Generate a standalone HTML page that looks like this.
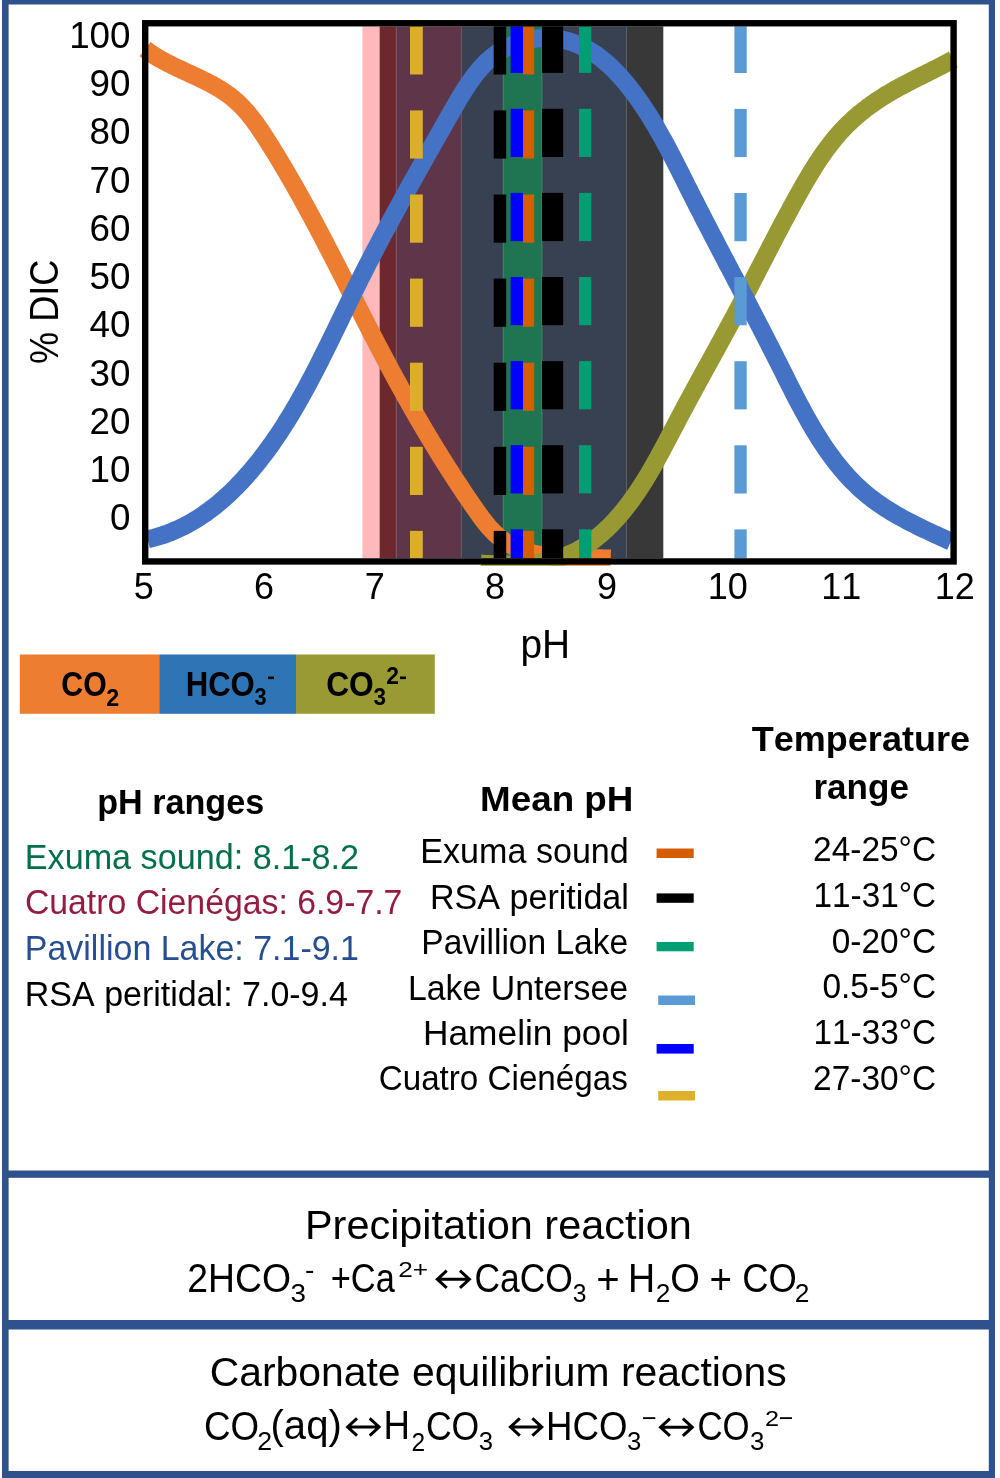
<!DOCTYPE html><html><head><meta charset="utf-8"><style>html,body{margin:0;padding:0;background:#fff;width:1000px;height:1478px;overflow:hidden}svg{display:block;will-change:transform;font-family:"Liberation Sans",sans-serif;font-kerning:none;font-variant-ligatures:none}</style></head><body>
<svg width="1000" height="1478" viewBox="0 0 1000 1478">
<rect x="0" y="0" width="1000" height="1478" fill="#fff"/>
<rect x="362.4" y="26.4" width="17.2" height="531.8" fill="#FFB9BB"/>
<rect x="379.6" y="26.4" width="16.6" height="531.8" fill="#6C282D"/>
<rect x="396.2" y="26.4" width="65.1" height="531.8" fill="#5F3649"/>
<rect x="461.3" y="26.4" width="165.2" height="531.8" fill="#384152"/>
<rect x="503.3" y="26.4" width="38.6" height="531.8" fill="#1F7452"/>
<rect x="626.5" y="26.4" width="36.8" height="531.8" fill="#383838"/>
<rect x="395.7" y="26.4" width="1" height="531.8" fill="#7A5565"/>
<rect x="460.8" y="26.4" width="1" height="531.8" fill="#6A5262"/>
<rect x="502.8" y="26.4" width="1" height="531.8" fill="#3F8A6A"/>
<rect x="541.4" y="26.4" width="1" height="531.8" fill="#3F8A6A"/>
<rect x="626.0" y="26.4" width="1" height="531.8" fill="#5A5F6A"/>
<defs><clipPath id="cc"><rect x="0" y="0" width="1000" height="565.8"/></clipPath></defs>
<g clip-path="url(#cc)" fill="none" stroke-width="18" stroke-linejoin="round">
<path d="M145.04,49.08 L146.42,50.15 L147.82,51.19 L149.24,52.21 L150.69,53.21 L152.15,54.19 L153.64,55.16 L155.15,56.11 L156.68,57.04 L158.23,57.96 L159.79,58.87 L161.37,59.76 L162.97,60.64 L164.58,61.50 L166.20,62.36 L167.84,63.21 L169.49,64.05 L171.15,64.87 L172.82,65.70 L174.50,66.51 L176.19,67.32 L177.89,68.13 L179.59,68.93 L181.30,69.73 L183.01,70.52 L184.72,71.32 L186.44,72.11 L188.16,72.91 L189.88,73.70 L191.61,74.50 L193.33,75.30 L195.05,76.10 L196.76,76.91 L198.47,77.72 L200.18,78.54 L201.88,79.37 L203.58,80.21 L205.27,81.05 L206.95,81.90 L208.62,82.76 L210.28,83.64 L211.93,84.53 L213.57,85.42 L215.20,86.34 L216.81,87.27 L218.41,88.21 L219.99,89.17 L221.56,90.15 L223.10,91.14 L224.63,92.15 L226.15,93.19 L227.64,94.24 L229.11,95.32 L230.55,96.41 L231.98,97.53 L233.38,98.68 L234.76,99.85 L236.11,101.04 L237.44,102.25 L238.76,103.49 L240.04,104.74 L241.31,106.02 L242.56,107.32 L243.79,108.63 L245.01,109.96 L246.20,111.31 L247.38,112.68 L248.54,114.06 L249.68,115.46 L250.81,116.88 L251.93,118.30 L253.03,119.74 L254.12,121.19 L255.20,122.66 L256.27,124.13 L257.32,125.61 L258.37,127.11 L259.40,128.61 L260.43,130.12 L261.45,131.64 L262.46,133.16 L263.47,134.69 L264.46,136.22 L265.46,137.76 L266.45,139.30 L267.43,140.85 L268.41,142.40 L269.39,143.95 L270.37,145.50 L271.34,147.05 L272.31,148.60 L273.27,150.16 L274.24,151.72 L275.20,153.28 L276.15,154.84 L277.11,156.40 L278.06,157.97 L279.01,159.54 L279.95,161.11 L280.90,162.68 L281.84,164.25 L282.77,165.82 L283.71,167.40 L284.64,168.98 L285.57,170.56 L286.50,172.14 L287.42,173.72 L288.34,175.30 L289.26,176.89 L290.18,178.47 L291.10,180.06 L292.01,181.65 L292.92,183.24 L293.83,184.83 L294.73,186.43 L295.64,188.02 L296.54,189.62 L297.44,191.21 L298.33,192.81 L299.23,194.41 L300.12,196.02 L301.01,197.62 L301.90,199.22 L302.79,200.83 L303.67,202.43 L304.56,204.04 L305.44,205.65 L306.32,207.26 L307.20,208.87 L308.07,210.48 L308.95,212.09 L309.82,213.71 L310.69,215.32 L311.56,216.94 L312.43,218.55 L313.30,220.17 L314.16,221.79 L315.02,223.41 L315.89,225.03 L316.75,226.65 L317.61,228.27 L318.46,229.90 L319.32,231.52 L320.18,233.15 L321.03,234.77 L321.88,236.40 L322.74,238.02 L323.59,239.65 L324.44,241.28 L325.28,242.91 L326.13,244.54 L326.98,246.17 L327.82,247.80 L328.67,249.43 L329.51,251.06 L330.36,252.69 L331.20,254.33 L332.04,255.96 L332.88,257.59 L333.72,259.23 L334.56,260.86 L335.40,262.50 L336.24,264.13 L337.07,265.77 L337.91,267.41 L338.75,269.04 L339.58,270.68 L340.42,272.32 L341.25,273.95 L342.09,275.59 L342.92,277.23 L343.76,278.87 L344.59,280.50 L345.43,282.14 L346.26,283.78 L347.09,285.42 L347.93,287.06 L348.76,288.70 L349.59,290.34 L350.42,291.98 L351.26,293.61 L352.09,295.25 L352.92,296.89 L353.76,298.53 L354.59,300.17 L355.42,301.81 L356.26,303.45 L357.09,305.09 L357.92,306.72 L358.76,308.36 L359.59,310.00 L360.43,311.64 L361.26,313.27 L362.10,314.91 L362.94,316.55 L363.77,318.19 L364.61,319.82 L365.45,321.46 L366.29,323.09 L367.13,324.73 L367.97,326.36 L368.81,328.00 L369.65,329.63 L370.49,331.27 L371.34,332.90 L372.18,334.53 L373.03,336.16 L373.87,337.79 L374.72,339.43 L375.57,341.06 L376.41,342.69 L377.26,344.31 L378.12,345.94 L378.97,347.57 L379.82,349.20 L380.68,350.82 L381.53,352.45 L382.39,354.07 L383.25,355.70 L384.11,357.32 L384.97,358.94 L385.83,360.57 L386.69,362.19 L387.56,363.81 L388.42,365.43 L389.29,367.05 L390.16,368.66 L391.03,370.28 L391.90,371.90 L392.77,373.51 L393.65,375.13 L394.52,376.74 L395.40,378.35 L396.28,379.96 L397.16,381.58 L398.04,383.19 L398.93,384.80 L399.81,386.40 L400.70,388.01 L401.59,389.62 L402.47,391.22 L403.37,392.83 L404.26,394.43 L405.15,396.03 L406.05,397.64 L406.95,399.24 L407.85,400.84 L408.75,402.43 L409.65,404.03 L410.56,405.63 L411.46,407.22 L412.37,408.82 L413.28,410.41 L414.19,412.01 L415.10,413.60 L416.02,415.19 L416.94,416.78 L417.86,418.36 L418.78,419.95 L419.70,421.54 L420.62,423.12 L421.55,424.71 L422.48,426.29 L423.41,427.87 L424.34,429.45 L425.27,431.03 L426.21,432.61 L427.15,434.19 L428.09,435.76 L429.03,437.34 L429.98,438.91 L430.92,440.48 L431.87,442.05 L432.82,443.62 L433.77,445.19 L434.73,446.76 L435.68,448.33 L436.64,449.89 L437.60,451.45 L438.57,453.02 L439.53,454.58 L440.50,456.14 L441.47,457.70 L442.44,459.25 L443.41,460.81 L444.39,462.36 L445.37,463.92 L446.35,465.47 L447.33,467.02 L448.32,468.57 L449.31,470.12 L450.30,471.66 L451.29,473.21 L452.28,474.75 L453.28,476.29 L454.28,477.83 L455.28,479.37 L456.29,480.91 L457.29,482.45 L458.30,483.98 L459.32,485.52 L460.33,487.05 L461.35,488.58 L462.37,490.11 L463.39,491.64 L464.41,493.16 L465.44,494.69 L466.47,496.21 L467.50,497.73 L468.54,499.26 L469.57,500.77 L470.61,502.29 L471.66,503.81 L472.70,505.32 L473.75,506.83 L474.80,508.35 L475.85,509.85 L476.91,511.36 L477.97,512.86 L479.04,514.36 L480.12,515.85 L481.20,517.32 L482.30,518.79 L483.40,520.25 L484.52,521.69 L485.65,523.11 L486.80,524.52 L487.96,525.91 L489.14,527.28 L490.34,528.63 L491.56,529.95 L492.80,531.25 L494.06,532.52 L495.35,533.77 L496.66,534.98 L497.99,536.16 L499.35,537.31 L500.74,538.43 L502.16,539.51 L503.61,540.55 L505.08,541.56 L506.58,542.53 L508.11,543.47 L509.66,544.38 L511.23,545.25 L512.82,546.08 L514.44,546.88 L516.08,547.64 L517.74,548.38 L519.41,549.07 L521.11,549.73 L522.82,550.36 L524.56,550.96 L526.30,551.53 L528.06,552.06 L529.84,552.56 L531.63,553.04 L533.43,553.49 L535.25,553.91 L537.08,554.30 L538.92,554.67 L540.76,555.02 L542.62,555.34 L544.49,555.64 L546.36,555.92 L548.24,556.17 L550.13,556.41 L552.02,556.62 L553.91,556.82 L555.81,557.00 L557.72,557.17 L559.62,557.31 L561.53,557.45 L563.43,557.57 L565.34,557.67 L567.25,557.77 L569.15,557.85 L571.05,557.92 L572.95,557.98 L574.85,558.03 L576.74,558.08 L578.62,558.12 L580.50,558.15 L582.37,558.18 L584.23,558.20 L586.09,558.22 L587.93,558.24 L589.77,558.25 L591.59,558.26 L593.40,558.28 L595.20,558.29 L596.99,558.31 L598.76,558.33 L600.52,558.35 L602.26,558.37 L603.99,558.41 L605.69,558.44 L607.38,558.49 L609.06,558.54 L610.71,558.60" stroke="#ED7D31"/>
<path d="M480.85,563.60 L482.65,563.71 L484.46,563.82 L486.27,563.92 L488.10,564.01 L489.93,564.10 L491.76,564.19 L493.61,564.26 L495.46,564.33 L497.31,564.39 L499.17,564.44 L501.03,564.48 L502.89,564.51 L504.76,564.53 L506.63,564.54 L508.50,564.54 L510.38,564.53 L512.25,564.51 L514.13,564.47 L516.00,564.42 L517.88,564.35 L519.75,564.27 L521.62,564.18 L523.50,564.07 L525.36,563.94 L527.23,563.80 L529.09,563.64 L530.95,563.46 L532.81,563.27 L534.66,563.05 L536.50,562.82 L538.34,562.56 L540.18,562.29 L542.00,562.00 L543.82,561.68 L545.64,561.34 L547.44,560.98 L549.24,560.60 L551.03,560.19 L552.80,559.76 L554.57,559.30 L556.33,558.82 L558.08,558.32 L559.81,557.78 L561.54,557.22 L563.25,556.64 L564.95,556.02 L566.63,555.38 L568.30,554.71 L569.96,554.01 L571.61,553.28 L573.23,552.52 L574.85,551.74 L576.45,550.93 L578.04,550.09 L579.62,549.23 L581.18,548.34 L582.72,547.42 L584.26,546.49 L585.78,545.52 L587.28,544.54 L588.78,543.53 L590.26,542.50 L591.72,541.45 L593.18,540.38 L594.62,539.29 L596.04,538.17 L597.45,537.04 L598.86,535.89 L600.24,534.72 L601.62,533.54 L602.98,532.34 L604.33,531.12 L605.66,529.88 L606.98,528.63 L608.29,527.36 L609.59,526.08 L610.88,524.79 L612.15,523.48 L613.41,522.16 L614.65,520.83 L615.89,519.48 L617.11,518.13 L618.32,516.76 L619.52,515.38 L620.70,514.00 L621.88,512.60 L623.04,511.19 L624.19,509.78 L625.33,508.35 L626.46,506.92 L627.58,505.48 L628.69,504.03 L629.79,502.57 L630.87,501.10 L631.95,499.62 L633.02,498.14 L634.08,496.64 L635.13,495.14 L636.17,493.64 L637.20,492.12 L638.23,490.60 L639.24,489.07 L640.25,487.54 L641.25,486.00 L642.24,484.45 L643.23,482.90 L644.21,481.34 L645.18,479.77 L646.14,478.20 L647.10,476.63 L648.05,475.05 L648.99,473.46 L649.93,471.87 L650.86,470.28 L651.79,468.68 L652.71,467.07 L653.63,465.47 L654.54,463.86 L655.45,462.24 L656.35,460.62 L657.25,459.00 L658.15,457.38 L659.04,455.75 L659.92,454.12 L660.81,452.49 L661.69,450.86 L662.57,449.22 L663.44,447.59 L664.31,445.95 L665.19,444.31 L666.05,442.67 L666.92,441.03 L667.79,439.38 L668.65,437.74 L669.51,436.09 L670.37,434.45 L671.23,432.81 L672.09,431.16 L672.95,429.52 L673.81,427.87 L674.67,426.23 L675.53,424.59 L676.39,422.95 L677.25,421.31 L678.11,419.67 L678.98,418.04 L679.84,416.40 L680.71,414.77 L681.57,413.14 L682.44,411.51 L683.31,409.88 L684.18,408.25 L685.05,406.63 L685.92,405.00 L686.79,403.38 L687.66,401.76 L688.53,400.14 L689.41,398.52 L690.28,396.90 L691.16,395.29 L692.03,393.67 L692.91,392.06 L693.79,390.44 L694.66,388.83 L695.54,387.22 L696.42,385.61 L697.30,384.00 L698.18,382.39 L699.06,380.78 L699.94,379.17 L700.82,377.57 L701.70,375.96 L702.58,374.36 L703.46,372.75 L704.34,371.15 L705.22,369.54 L706.10,367.94 L706.98,366.34 L707.86,364.73 L708.74,363.13 L709.62,361.53 L710.50,359.93 L711.38,358.33 L712.26,356.73 L713.13,355.12 L714.01,353.52 L714.89,351.92 L715.77,350.32 L716.65,348.72 L717.52,347.12 L718.40,345.52 L719.27,343.92 L720.15,342.32 L721.02,340.71 L721.90,339.11 L722.77,337.51 L723.64,335.91 L724.51,334.30 L725.39,332.70 L726.26,331.10 L727.12,329.49 L727.99,327.89 L728.86,326.28 L729.73,324.67 L730.59,323.07 L731.45,321.46 L732.32,319.85 L733.18,318.24 L734.04,316.63 L734.90,315.02 L735.76,313.41 L736.61,311.80 L737.47,310.18 L738.32,308.57 L739.18,306.95 L740.03,305.33 L740.88,303.72 L741.73,302.10 L742.58,300.48 L743.42,298.86 L744.27,297.24 L745.12,295.62 L745.96,294.00 L746.81,292.37 L747.65,290.75 L748.49,289.12 L749.33,287.50 L750.18,285.87 L751.02,284.25 L751.86,282.62 L752.70,280.99 L753.54,279.37 L754.38,277.74 L755.22,276.11 L756.06,274.48 L756.90,272.85 L757.74,271.22 L758.58,269.59 L759.42,267.96 L760.26,266.33 L761.10,264.70 L761.94,263.07 L762.78,261.44 L763.62,259.81 L764.46,258.17 L765.31,256.54 L766.15,254.91 L766.99,253.28 L767.84,251.65 L768.68,250.01 L769.52,248.38 L770.37,246.75 L771.22,245.12 L772.06,243.49 L772.91,241.85 L773.76,240.22 L774.61,238.59 L775.46,236.96 L776.32,235.33 L777.17,233.70 L778.03,232.07 L778.88,230.44 L779.74,228.80 L780.60,227.17 L781.46,225.55 L782.32,223.92 L783.19,222.29 L784.05,220.66 L784.92,219.03 L785.79,217.40 L786.66,215.78 L787.53,214.15 L788.41,212.52 L789.28,210.90 L790.16,209.27 L791.04,207.65 L791.93,206.03 L792.81,204.40 L793.70,202.78 L794.59,201.16 L795.48,199.54 L796.37,197.92 L797.27,196.30 L798.17,194.68 L799.07,193.07 L799.98,191.45 L800.88,189.84 L801.80,188.23 L802.71,186.61 L803.63,185.01 L804.55,183.40 L805.48,181.80 L806.41,180.20 L807.35,178.60 L808.29,177.01 L809.24,175.42 L810.19,173.84 L811.15,172.26 L812.11,170.69 L813.08,169.12 L814.06,167.55 L815.04,166.00 L816.04,164.44 L817.03,162.90 L818.04,161.36 L819.05,159.82 L820.08,158.30 L821.10,156.78 L822.14,155.27 L823.19,153.76 L824.25,152.27 L825.31,150.78 L826.39,149.30 L827.47,147.83 L828.56,146.37 L829.67,144.92 L830.78,143.48 L831.91,142.05 L833.04,140.62 L834.19,139.21 L835.35,137.81 L836.52,136.42 L837.70,135.05 L838.90,133.68 L840.10,132.33 L841.32,130.98 L842.55,129.65 L843.80,128.34 L845.05,127.03 L846.33,125.74 L847.61,124.46 L848.91,123.20 L850.22,121.94 L851.54,120.70 L852.88,119.48 L854.23,118.26 L855.59,117.06 L856.96,115.87 L858.34,114.69 L859.74,113.53 L861.15,112.38 L862.56,111.24 L863.99,110.11 L865.43,108.99 L866.88,107.89 L868.34,106.79 L869.81,105.71 L871.29,104.64 L872.78,103.58 L874.28,102.53 L875.79,101.50 L877.31,100.47 L878.84,99.45 L880.37,98.45 L881.92,97.46 L883.47,96.47 L885.03,95.50 L886.60,94.54 L888.17,93.59 L889.76,92.65 L891.35,91.72 L892.94,90.80 L894.55,89.88 L896.16,88.98 L897.77,88.09 L899.39,87.20 L901.02,86.32 L902.65,85.45 L904.29,84.58 L905.92,83.72 L907.56,82.86 L909.21,82.01 L910.86,81.17 L912.50,80.33 L914.15,79.49 L915.81,78.66 L917.46,77.83 L919.11,77.00 L920.76,76.18 L922.42,75.35 L924.07,74.53 L925.72,73.70 L927.37,72.88 L929.02,72.06 L930.66,71.23 L932.30,70.41 L933.94,69.58 L935.58,68.76 L937.21,67.92 L938.84,67.09 L940.46,66.25 L942.08,65.41 L943.69,64.57 L945.29,63.71 L946.89,62.86 L948.49,62.00 L950.07,61.13 L951.65,60.26 L953.22,59.37" stroke="#999933"/>
<path d="M147.64,539.34 L151.05,538.53 L154.42,537.66 L157.74,536.71 L161.03,535.69 L164.27,534.60 L167.48,533.45 L170.64,532.23 L173.77,530.94 L176.86,529.60 L179.91,528.19 L182.93,526.72 L185.90,525.19 L188.84,523.61 L191.75,521.97 L194.62,520.28 L197.45,518.53 L200.25,516.74 L203.02,514.89 L205.75,513.00 L208.45,511.06 L211.11,509.07 L213.74,507.04 L216.34,504.97 L218.91,502.86 L221.45,500.70 L223.95,498.51 L226.43,496.29 L228.87,494.03 L231.29,491.73 L233.67,489.40 L236.03,487.04 L238.36,484.66 L240.66,482.24 L242.93,479.80 L245.17,477.33 L247.39,474.84 L249.58,472.33 L251.75,469.80 L253.89,467.24 L256.01,464.67 L258.10,462.08 L260.16,459.47 L262.21,456.84 L264.23,454.19 L266.23,451.53 L268.20,448.84 L270.15,446.14 L272.09,443.43 L274.00,440.70 L275.89,437.95 L277.76,435.18 L279.61,432.41 L281.45,429.61 L283.26,426.81 L285.06,423.99 L286.84,421.16 L288.60,418.31 L290.35,415.45 L292.08,412.58 L293.79,409.70 L295.49,406.81 L297.17,403.91 L298.84,400.99 L300.50,398.07 L302.14,395.14 L303.77,392.19 L305.39,389.24 L307.00,386.29 L308.59,383.32 L310.18,380.35 L311.75,377.36 L313.31,374.38 L314.87,371.38 L316.41,368.39 L317.95,365.38 L319.48,362.37 L321.00,359.36 L322.51,356.34 L324.02,353.32 L325.52,350.30 L327.01,347.27 L328.50,344.24 L329.99,341.21 L331.47,338.18 L332.94,335.14 L334.42,332.11 L335.89,329.07 L337.35,326.04 L338.82,323.00 L340.28,319.97 L341.75,316.94 L343.21,313.90 L344.67,310.88 L346.13,307.85 L347.60,304.83 L349.06,301.81 L350.53,298.79 L352.00,295.78 L353.47,292.78 L354.94,289.77 L356.42,286.78 L357.91,283.79 L359.39,280.80 L360.88,277.82 L362.38,274.85 L363.88,271.88 L365.38,268.92 L366.89,265.96 L368.40,263.01 L369.91,260.06 L371.43,257.11 L372.96,254.17 L374.49,251.23 L376.02,248.30 L377.56,245.36 L379.10,242.44 L380.64,239.51 L382.19,236.59 L383.74,233.66 L385.30,230.75 L386.86,227.83 L388.42,224.91 L389.99,222.00 L391.56,219.09 L393.14,216.18 L394.72,213.26 L396.31,210.35 L397.89,207.44 L399.49,204.53 L401.08,201.62 L402.68,198.71 L404.29,195.80 L405.90,192.89 L407.51,189.98 L409.12,187.07 L410.74,184.15 L412.37,181.24 L414.00,178.32 L415.63,175.40 L417.26,172.48 L418.90,169.55 L420.55,166.62 L422.19,163.69 L423.84,160.76 L425.50,157.82 L427.16,154.88 L428.82,151.94 L430.49,148.99 L432.16,146.04 L433.83,143.08 L435.51,140.12 L437.19,137.16 L438.87,134.19 L440.56,131.21 L442.25,128.23 L443.95,125.24 L445.65,122.25 L447.35,119.25 L449.06,116.24 L450.77,113.23 L452.49,110.21 L454.21,107.20 L455.95,104.19 L457.70,101.19 L459.47,98.20 L461.26,95.24 L463.07,92.30 L464.91,89.39 L466.78,86.51 L468.68,83.67 L470.61,80.88 L472.59,78.14 L474.61,75.45 L476.67,72.82 L478.78,70.26 L480.95,67.76 L483.16,65.33 L485.44,62.99 L487.77,60.73 L490.17,58.55 L492.64,56.47 L495.17,54.49 L497.78,52.61 L500.46,50.83 L503.22,49.17 L506.06,47.62 L508.97,46.19 L511.94,44.87 L514.97,43.67 L518.05,42.59 L521.17,41.62 L524.34,40.77 L527.54,40.04 L530.77,39.42 L534.02,38.93 L537.29,38.56 L540.57,38.30 L543.85,38.17 L547.13,38.16 L550.41,38.27 L553.67,38.51 L556.92,38.87 L560.14,39.35 L563.33,39.96 L566.48,40.69 L569.60,41.55 L572.66,42.54 L575.69,43.64 L578.67,44.86 L581.60,46.19 L584.50,47.63 L587.35,49.18 L590.16,50.82 L592.92,52.56 L595.65,54.40 L598.33,56.32 L600.97,58.33 L603.57,60.42 L606.13,62.59 L608.66,64.83 L611.14,67.14 L613.58,69.51 L615.98,71.95 L618.35,74.44 L620.68,76.99 L622.96,79.59 L625.22,82.23 L627.43,84.92 L629.61,87.64 L631.75,90.40 L633.86,93.19 L635.93,96.00 L637.96,98.84 L639.96,101.70 L641.93,104.57 L643.86,107.45 L645.75,110.33 L647.62,113.23 L649.45,116.13 L651.25,119.03 L653.03,121.94 L654.78,124.85 L656.50,127.77 L658.19,130.69 L659.86,133.62 L661.51,136.55 L663.14,139.48 L664.75,142.42 L666.35,145.36 L667.92,148.30 L669.48,151.24 L671.03,154.19 L672.56,157.14 L674.08,160.09 L675.60,163.04 L677.10,165.99 L678.59,168.94 L680.08,171.90 L681.57,174.85 L683.05,177.81 L684.53,180.76 L686.01,183.71 L687.49,186.67 L688.97,189.62 L690.46,192.57 L691.94,195.52 L693.44,198.47 L694.93,201.42 L696.43,204.36 L697.93,207.31 L699.44,210.26 L700.95,213.20 L702.46,216.15 L703.97,219.09 L705.49,222.03 L707.01,224.98 L708.53,227.92 L710.06,230.86 L711.59,233.81 L713.12,236.75 L714.65,239.69 L716.18,242.64 L717.72,245.58 L719.25,248.53 L720.79,251.47 L722.33,254.42 L723.87,257.36 L725.42,260.31 L726.96,263.26 L728.51,266.21 L730.05,269.16 L731.60,272.11 L733.15,275.07 L734.70,278.02 L736.25,280.98 L737.80,283.93 L739.35,286.89 L740.90,289.86 L742.45,292.82 L744.00,295.78 L745.55,298.75 L747.10,301.72 L748.65,304.69 L750.20,307.67 L751.74,310.64 L753.29,313.62 L754.84,316.60 L756.39,319.59 L757.93,322.57 L759.48,325.56 L761.02,328.56 L762.56,331.55 L764.10,334.55 L765.64,337.55 L767.18,340.56 L768.72,343.57 L770.25,346.58 L771.78,349.59 L773.31,352.61 L774.84,355.64 L776.36,358.67 L777.89,361.70 L779.41,364.73 L780.93,367.77 L782.45,370.81 L783.97,373.85 L785.49,376.89 L787.01,379.93 L788.54,382.97 L790.07,386.01 L791.61,389.04 L793.15,392.07 L794.70,395.09 L796.26,398.10 L797.83,401.11 L799.41,404.11 L801.00,407.10 L802.60,410.08 L804.22,413.05 L805.85,416.00 L807.50,418.94 L809.16,421.87 L810.84,424.78 L812.53,427.68 L814.25,430.56 L815.99,433.42 L817.74,436.26 L819.52,439.08 L821.33,441.88 L823.15,444.66 L825.00,447.41 L826.88,450.14 L828.79,452.85 L830.72,455.53 L832.68,458.18 L834.67,460.81 L836.69,463.41 L838.75,465.97 L840.83,468.51 L842.96,471.02 L845.11,473.49 L847.30,475.93 L849.53,478.33 L851.80,480.70 L854.10,483.04 L856.44,485.33 L858.83,487.59 L861.25,489.81 L863.72,491.98 L866.24,494.12 L868.79,496.21 L871.39,498.27 L874.04,500.27 L876.73,502.24 L879.46,504.16 L882.23,506.05 L885.04,507.90 L887.88,509.71 L890.75,511.48 L893.64,513.22 L896.57,514.93 L899.52,516.61 L902.48,518.26 L905.47,519.87 L908.47,521.46 L911.49,523.03 L914.52,524.56 L917.56,526.08 L920.60,527.57 L923.65,529.04 L926.70,530.50 L929.75,531.93 L932.80,533.34 L935.84,534.74 L938.88,536.13 L941.90,537.50 L944.91,538.86 L947.91,540.22 L950.88,541.56" stroke="#4472C4"/>
</g>
<rect x="410.0" y="26.4" width="12.8" height="48.1" fill="#DCAE2C"/><rect x="410.0" y="110.4" width="12.8" height="48.2" fill="#DCAE2C"/><rect x="410.0" y="194.5" width="12.8" height="48.2" fill="#DCAE2C"/><rect x="410.0" y="278.6" width="12.8" height="48.2" fill="#DCAE2C"/><rect x="410.0" y="362.7" width="12.8" height="48.2" fill="#DCAE2C"/><rect x="410.0" y="446.8" width="12.8" height="48.2" fill="#DCAE2C"/><rect x="410.0" y="530.9" width="12.8" height="27.3" fill="#DCAE2C"/>
<rect x="493.7" y="26.4" width="12.5" height="48.1" fill="#000000"/><rect x="493.7" y="110.4" width="12.5" height="48.2" fill="#000000"/><rect x="493.7" y="194.5" width="12.5" height="48.2" fill="#000000"/><rect x="493.7" y="278.6" width="12.5" height="48.2" fill="#000000"/><rect x="493.7" y="362.7" width="12.5" height="48.2" fill="#000000"/><rect x="493.7" y="446.8" width="12.5" height="48.2" fill="#000000"/><rect x="493.7" y="530.9" width="12.5" height="27.3" fill="#000000"/>
<rect x="510.6" y="26.4" width="12.4" height="46.5" fill="#0000FF"/><rect x="510.6" y="108.8" width="12.4" height="48.2" fill="#0000FF"/><rect x="510.6" y="192.9" width="12.4" height="48.2" fill="#0000FF"/><rect x="510.6" y="277.0" width="12.4" height="48.2" fill="#0000FF"/><rect x="510.6" y="361.1" width="12.4" height="48.2" fill="#0000FF"/><rect x="510.6" y="445.2" width="12.4" height="48.2" fill="#0000FF"/><rect x="510.6" y="529.3" width="12.4" height="28.9" fill="#0000FF"/>
<rect x="523.0" y="26.4" width="11.2" height="48.1" fill="#D55E00"/><rect x="523.0" y="110.4" width="11.2" height="48.2" fill="#D55E00"/><rect x="523.0" y="194.5" width="11.2" height="48.2" fill="#D55E00"/><rect x="523.0" y="278.6" width="11.2" height="48.2" fill="#D55E00"/><rect x="523.0" y="362.7" width="11.2" height="48.2" fill="#D55E00"/><rect x="523.0" y="446.8" width="11.2" height="48.2" fill="#D55E00"/><rect x="523.0" y="530.9" width="11.2" height="27.3" fill="#D55E00"/>
<rect x="542.0" y="26.4" width="21.2" height="46.5" fill="#000000"/><rect x="542.0" y="108.8" width="21.2" height="48.2" fill="#000000"/><rect x="542.0" y="192.9" width="21.2" height="48.2" fill="#000000"/><rect x="542.0" y="277.0" width="21.2" height="48.2" fill="#000000"/><rect x="542.0" y="361.1" width="21.2" height="48.2" fill="#000000"/><rect x="542.0" y="445.2" width="21.2" height="48.2" fill="#000000"/><rect x="542.0" y="529.3" width="21.2" height="28.9" fill="#000000"/>
<rect x="579.0" y="26.4" width="12.3" height="46.5" fill="#009E73"/><rect x="579.0" y="108.8" width="12.3" height="48.2" fill="#009E73"/><rect x="579.0" y="192.9" width="12.3" height="48.2" fill="#009E73"/><rect x="579.0" y="277.0" width="12.3" height="48.2" fill="#009E73"/><rect x="579.0" y="361.1" width="12.3" height="48.2" fill="#009E73"/><rect x="579.0" y="445.2" width="12.3" height="48.2" fill="#009E73"/><rect x="579.0" y="529.3" width="12.3" height="28.9" fill="#009E73"/>
<rect x="734.4" y="26.4" width="12.3" height="46.6" fill="#5B9BD5"/><rect x="734.4" y="108.9" width="12.3" height="48.2" fill="#5B9BD5"/><rect x="734.4" y="193.0" width="12.3" height="48.2" fill="#5B9BD5"/><rect x="734.4" y="277.1" width="12.3" height="48.2" fill="#5B9BD5"/><rect x="734.4" y="361.2" width="12.3" height="48.2" fill="#5B9BD5"/><rect x="734.4" y="445.3" width="12.3" height="48.2" fill="#5B9BD5"/><rect x="734.4" y="529.4" width="12.3" height="28.8" fill="#5B9BD5"/>
<rect x="145.2" y="23.25" width="808.4" height="538.20" fill="none" stroke="#000" stroke-width="6.4"/>
<text x="69.14" y="47.90" font-size="36.80" fill="#000" textLength="61.40" lengthAdjust="spacingAndGlyphs">100</text>
<text x="89.60" y="96.14" font-size="36.80" fill="#000" textLength="40.93" lengthAdjust="spacingAndGlyphs">90</text>
<text x="89.60" y="144.38" font-size="36.80" fill="#000" textLength="40.93" lengthAdjust="spacingAndGlyphs">80</text>
<text x="89.60" y="192.62" font-size="36.80" fill="#000" textLength="40.93" lengthAdjust="spacingAndGlyphs">70</text>
<text x="89.60" y="240.86" font-size="36.80" fill="#000" textLength="40.93" lengthAdjust="spacingAndGlyphs">60</text>
<text x="89.60" y="289.10" font-size="36.80" fill="#000" textLength="40.93" lengthAdjust="spacingAndGlyphs">50</text>
<text x="89.60" y="337.34" font-size="36.80" fill="#000" textLength="40.93" lengthAdjust="spacingAndGlyphs">40</text>
<text x="89.60" y="385.58" font-size="36.80" fill="#000" textLength="40.93" lengthAdjust="spacingAndGlyphs">30</text>
<text x="89.60" y="433.82" font-size="36.80" fill="#000" textLength="40.93" lengthAdjust="spacingAndGlyphs">20</text>
<text x="89.60" y="482.06" font-size="36.80" fill="#000" textLength="40.93" lengthAdjust="spacingAndGlyphs">10</text>
<text x="110.07" y="530.30" font-size="36.80" fill="#000" textLength="20.47" lengthAdjust="spacingAndGlyphs">0</text>
<text x="133.82" y="598.50" font-size="36.00" fill="#000" textLength="20.02" lengthAdjust="spacingAndGlyphs">5</text>
<text x="254.07" y="598.50" font-size="36.00" fill="#000" textLength="20.02" lengthAdjust="spacingAndGlyphs">6</text>
<text x="364.87" y="598.50" font-size="36.00" fill="#000" textLength="20.02" lengthAdjust="spacingAndGlyphs">7</text>
<text x="484.99" y="598.50" font-size="36.00" fill="#000" textLength="20.02" lengthAdjust="spacingAndGlyphs">8</text>
<text x="597.00" y="598.50" font-size="36.00" fill="#000" textLength="20.02" lengthAdjust="spacingAndGlyphs">9</text>
<text x="707.71" y="598.50" font-size="36.00" fill="#000" textLength="40.04" lengthAdjust="spacingAndGlyphs">10</text>
<text x="821.19" y="598.50" font-size="36.00" fill="#000" textLength="40.04" lengthAdjust="spacingAndGlyphs">11</text>
<text x="934.81" y="598.50" font-size="36.00" fill="#000" textLength="40.04" lengthAdjust="spacingAndGlyphs">12</text>
<text x="520.50" y="657.80" font-size="40.30" fill="#000" textLength="49.67" lengthAdjust="spacingAndGlyphs">pH</text>
<g transform="translate(58.4,0) rotate(-90)"><text x="-363.99" y="0.00" font-size="40.30" fill="#000" textLength="104.47" lengthAdjust="spacingAndGlyphs">% DIC</text></g>
<rect x="19.8" y="654.5" width="139.4" height="59.3" fill="#ED7D31"/>
<rect x="159.2" y="654.5" width="136.8" height="59.3" fill="#2E75B6"/>
<rect x="296.0" y="654.5" width="138.8" height="59.3" fill="#9A9A35"/>
<text x="61.36" y="695.60" font-size="35.00" font-weight="bold" fill="#000" textLength="45.31" lengthAdjust="spacingAndGlyphs">CO</text>
<text x="106.19" y="706.00" font-size="23.80" font-weight="bold" fill="#000" textLength="12.94" lengthAdjust="spacingAndGlyphs">2</text>
<text x="185.72" y="695.60" font-size="35.00" font-weight="bold" fill="#000" textLength="69.09" lengthAdjust="spacingAndGlyphs">HCO</text>
<text x="254.50" y="705.00" font-size="23.00" font-weight="bold" fill="#000" textLength="12.08" lengthAdjust="spacingAndGlyphs">3</text>
<rect x="268" y="676.5" width="6" height="2.6" fill="#000"/>
<text x="326.20" y="695.60" font-size="35.00" font-weight="bold" fill="#000" textLength="47.64" lengthAdjust="spacingAndGlyphs">CO</text>
<text x="373.48" y="705.00" font-size="23.00" font-weight="bold" fill="#000" textLength="12.53" lengthAdjust="spacingAndGlyphs">3</text>
<text x="386.21" y="684.00" font-size="23.60" font-weight="bold" fill="#000" textLength="12.71" lengthAdjust="spacingAndGlyphs">2</text>
<rect x="400" y="676.5" width="6" height="2.6" fill="#000"/>
<text x="97.15" y="813.80" font-size="34.70" font-weight="bold" fill="#000" textLength="167.05" lengthAdjust="spacingAndGlyphs">pH ranges</text>
<text x="24.80" y="868.50" font-size="34.20" fill="#02704B" textLength="334.22" lengthAdjust="spacingAndGlyphs">Exuma sound: 8.1-8.2</text>
<text x="24.88" y="913.70" font-size="34.20" fill="#961B41" textLength="377.52" lengthAdjust="spacingAndGlyphs">Cuatro Cienégas: 6.9-7.7</text>
<text x="24.81" y="959.50" font-size="34.20" fill="#264F92" textLength="334.14" lengthAdjust="spacingAndGlyphs">Pavillion Lake: 7.1-9.1</text>
<text x="24.81" y="1005.70" font-size="34.20" fill="#000" textLength="323.08" lengthAdjust="spacingAndGlyphs">RSA peritidal: 7.0-9.4</text>
<text x="480.14" y="811.00" font-size="34.70" font-weight="bold" fill="#000" textLength="153.24" lengthAdjust="spacingAndGlyphs">Mean pH</text>
<text x="420.30" y="863.00" font-size="34.20" fill="#000" textLength="208.49" lengthAdjust="spacingAndGlyphs">Exuma sound</text>
<text x="430.00" y="908.90" font-size="34.20" fill="#000" textLength="198.88" lengthAdjust="spacingAndGlyphs">RSA peritidal</text>
<text x="421.35" y="954.40" font-size="34.20" fill="#000" textLength="206.74" lengthAdjust="spacingAndGlyphs">Pavillion Lake</text>
<text x="407.92" y="999.60" font-size="34.20" fill="#000" textLength="220.18" lengthAdjust="spacingAndGlyphs">Lake Untersee</text>
<text x="423.01" y="1045.10" font-size="34.20" fill="#000" textLength="205.96" lengthAdjust="spacingAndGlyphs">Hamelin pool</text>
<text x="378.71" y="1089.50" font-size="34.20" fill="#000" textLength="249.08" lengthAdjust="spacingAndGlyphs">Cuatro Cienégas</text>
<rect x="656.6" y="848.5" width="37.1" height="9.5" fill="#D55E00"/>
<rect x="656.6" y="893.4" width="37.1" height="9.4" fill="#000"/>
<rect x="656.6" y="942.0" width="37.1" height="9.3" fill="#009E73"/>
<rect x="658.2" y="995.5" width="36.8" height="9.5" fill="#5B9BD5"/>
<rect x="656.6" y="1044.0" width="37.1" height="9.6" fill="#0000FF"/>
<rect x="658.2" y="1091.0" width="36.8" height="9.5" fill="#DEB02C"/>
<text x="751.80" y="751.00" font-size="34.70" font-weight="bold" fill="#000" textLength="218.14" lengthAdjust="spacingAndGlyphs">Temperature</text>
<text x="813.49" y="798.50" font-size="34.70" font-weight="bold" fill="#000" textLength="95.41" lengthAdjust="spacingAndGlyphs">range</text>
<text x="813.12" y="860.70" font-size="34.40" fill="#000" textLength="122.95" lengthAdjust="spacingAndGlyphs">24-25°C</text>
<text x="813.56" y="907.00" font-size="34.40" fill="#000" textLength="122.50" lengthAdjust="spacingAndGlyphs">11-31°C</text>
<text x="831.80" y="952.60" font-size="34.40" fill="#000" textLength="104.28" lengthAdjust="spacingAndGlyphs">0-20°C</text>
<text x="822.39" y="998.00" font-size="34.40" fill="#000" textLength="113.68" lengthAdjust="spacingAndGlyphs">0.5-5°C</text>
<text x="813.56" y="1044.40" font-size="34.40" fill="#000" textLength="122.50" lengthAdjust="spacingAndGlyphs">11-33°C</text>
<text x="813.12" y="1089.90" font-size="34.40" fill="#000" textLength="122.95" lengthAdjust="spacingAndGlyphs">27-30°C</text>
<text x="305.00" y="1238.80" font-size="40.10" fill="#000" textLength="386.69" lengthAdjust="spacingAndGlyphs">Precipitation reaction</text>
<text x="187.22" y="1292.00" font-size="40.10" fill="#000" textLength="103.77" lengthAdjust="spacingAndGlyphs">2HCO</text>
<text x="290.54" y="1302.30" font-size="26.30" fill="#000" textLength="15.48" lengthAdjust="spacingAndGlyphs">3</text>
<rect x="306.3" y="1270.9" width="6.8" height="2.1" fill="#000"/>
<text x="330.72" y="1292.00" font-size="40.10" fill="#000" textLength="64.08" lengthAdjust="spacingAndGlyphs">+Ca</text>
<text x="398.18" y="1277.30" font-size="22.40" fill="#000" textLength="29.91" lengthAdjust="spacingAndGlyphs">2+</text>
<path d="M438.32,1279.30 H468.38 M446.72,1270.70 L437.32,1279.30 L446.72,1287.90 M459.98,1270.70 L469.38,1279.30 L459.98,1287.90" fill="none" stroke="#000" stroke-width="3.0" stroke-linejoin="miter"/>
<text x="474.40" y="1292.00" font-size="40.10" fill="#000" textLength="98.39" lengthAdjust="spacingAndGlyphs">CaCO</text>
<text x="572.76" y="1302.30" font-size="26.30" fill="#000" textLength="13.72" lengthAdjust="spacingAndGlyphs">3</text>
<text x="596.24" y="1293.50" font-size="42.10" fill="#000" textLength="23.44" lengthAdjust="spacingAndGlyphs">+</text>
<text x="627.92" y="1292.00" font-size="40.10" fill="#000" textLength="27.15" lengthAdjust="spacingAndGlyphs">H</text>
<text x="655.68" y="1302.40" font-size="26.30" fill="#000" textLength="14.65" lengthAdjust="spacingAndGlyphs">2</text>
<text x="670.20" y="1292.40" font-size="40.10" fill="#000" textLength="29.63" lengthAdjust="spacingAndGlyphs">O</text>
<text x="709.62" y="1293.50" font-size="42.10" fill="#000" textLength="22.48" lengthAdjust="spacingAndGlyphs">+</text>
<text x="742.15" y="1292.40" font-size="40.10" fill="#000" textLength="54.59" lengthAdjust="spacingAndGlyphs">CO</text>
<text x="794.68" y="1302.40" font-size="26.30" fill="#000" textLength="14.65" lengthAdjust="spacingAndGlyphs">2</text>
<text x="209.72" y="1386.40" font-size="40.10" fill="#000" textLength="577.05" lengthAdjust="spacingAndGlyphs">Carbonate equilibrium reactions</text>
<text x="204.03" y="1439.60" font-size="40.10" fill="#000" textLength="55.12" lengthAdjust="spacingAndGlyphs">CO</text>
<text x="257.35" y="1450.00" font-size="26.30" fill="#000" textLength="14.89" lengthAdjust="spacingAndGlyphs">2</text>
<text x="270.51" y="1439.30" font-size="40.10" fill="#000" textLength="71.27" lengthAdjust="spacingAndGlyphs">(aq)</text>
<path d="M348.62,1427.00 H378.08 M357.02,1418.40 L347.62,1427.00 L357.02,1435.60 M369.68,1418.40 L379.08,1427.00 L369.68,1435.60" fill="none" stroke="#000" stroke-width="3.0" stroke-linejoin="miter"/>
<text x="383.49" y="1439.30" font-size="40.10" fill="#000" textLength="26.50" lengthAdjust="spacingAndGlyphs">H</text>
<text x="411.56" y="1450.60" font-size="26.30" fill="#000" textLength="13.67" lengthAdjust="spacingAndGlyphs">2</text>
<text x="425.89" y="1439.60" font-size="40.10" fill="#000" textLength="53.41" lengthAdjust="spacingAndGlyphs">CO</text>
<text x="478.72" y="1450.00" font-size="26.30" fill="#000" textLength="14.31" lengthAdjust="spacingAndGlyphs">3</text>
<path d="M511.42,1427.00 H540.78 M519.82,1418.40 L510.42,1427.00 L519.82,1435.60 M532.38,1418.40 L541.78,1427.00 L532.38,1435.60" fill="none" stroke="#000" stroke-width="3.0" stroke-linejoin="miter"/>
<text x="546.09" y="1439.60" font-size="40.10" fill="#000" textLength="81.46" lengthAdjust="spacingAndGlyphs">HCO</text>
<text x="626.92" y="1450.00" font-size="26.30" fill="#000" textLength="14.31" lengthAdjust="spacingAndGlyphs">3</text>
<text x="641.65" y="1427.00" font-size="26.30" fill="#000" textLength="14.78" lengthAdjust="spacingAndGlyphs">−</text>
<path d="M661.52,1427.20 H691.28 M669.92,1418.60 L660.52,1427.20 L669.92,1435.80 M682.88,1418.60 L692.28,1427.20 L682.88,1435.80" fill="none" stroke="#000" stroke-width="3.0" stroke-linejoin="miter"/>
<text x="697.43" y="1439.60" font-size="40.10" fill="#000" textLength="52.23" lengthAdjust="spacingAndGlyphs">CO</text>
<text x="749.91" y="1450.40" font-size="26.30" fill="#000" textLength="14.43" lengthAdjust="spacingAndGlyphs">3</text>
<text x="765.13" y="1425.60" font-size="22.40" fill="#000" textLength="14.04" lengthAdjust="spacingAndGlyphs">2</text>
<text x="778.78" y="1427.00" font-size="26.30" fill="#000" textLength="14.42" lengthAdjust="spacingAndGlyphs">−</text>
<rect x="2" y="0" width="993" height="4.5" fill="#2F528F"/>
<rect x="2" y="0" width="6.6" height="1478" fill="#2F528F"/>
<rect x="988.8" y="0" width="6.2" height="1478" fill="#2F528F"/>
<rect x="2" y="1471" width="993" height="7" fill="#2F528F"/>
<rect x="2" y="1170.5" width="993" height="7.3" fill="#2F528F"/>
<rect x="2" y="1320" width="993" height="9.5" fill="#2F528F"/>
</svg></body></html>
